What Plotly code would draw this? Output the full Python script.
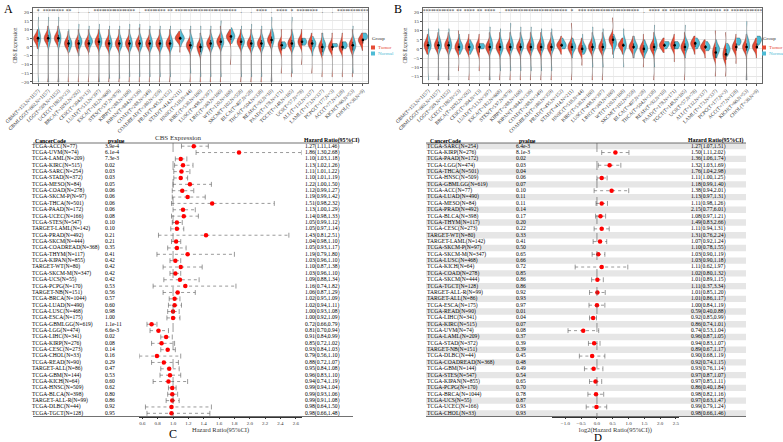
import math
import plotly.graph_objects as go

W, H = 783, 442
SERIF = "Liberation Serif"
RED = "#E64B35"
CYAN = "#4DBBD5"

cancer_labels = [
    "GBM(T=153,N=1157)", "GBMLGG(T=662,N=1157)", "LGG(T=509,N=1152)", "UCEC(T=180,N=23)",
    "BRCA(T=1092,N=292)", "CESC(T=304,N=13)", "LUAD(T=513,N=397)", "ESCA(T=182,N=668)",
    "STES(T=597,N=879)", "KIRP(T=288,N=168)", "KIPAN(T=884,N=336)", "COAD(T=288,N=349)",
    "COADREAD(T=380,N=359)", "PRAD(T=495,N=152)", "STAD(T=414,N=211)", "HNSC(T=518,N=44)",
    "KIRC(T=530,N=160)", "LUSC(T=498,N=397)", "LIHC(T=369,N=160)", "WT(T=120,N=168)",
    "SKCM(T=102,N=558)", "BLCA(T=407,N=28)", "THCA(T=504,N=338)", "READ(T=92,N=10)",
    "PAAD(T=178,N=171)", "TGCT(T=148,N=165)", "UCS(T=57,N=78)", "ALL(T=132,N=337)",
    "LAML(T=173,N=337)", "PCPG(T=177,N=3)", "ACC(T=77,N=128)", "KICH(T=66,N=53)",
    "CHOL(T=36,N=9)",
]

stars_a = ["*", "****", "****", "**", ".", ".", "****", "****", "****", "****", ".",
           "****", "****", "**", "****", "****", "****", "****", "****", "****", ".",
           ".", "****", ".", "****", "*", "****", "****", ".", ".", "****", "****", "****"]
stars_b = ["****", "****", "****", "**", "****", "**", "****", ".", "****", "****", "****",
           "****", "****", "****", "*", "***", "****", "****", "****", "****", "****",
           ".", "****", "**", "****", "****", "****", "****", "****", "**", "****",
           "****", "****"]

# (lo, q1, median, q3, hi)
a_tumor = [(-1, 3, 5, 6, 10), (-20, 3, 5, 7, 12), (-20, 3, 5, 7, 12), (-20, 0, 2, 4, 9),
           (-20, -1, 2, 4, 10), (-20, 0, 2, 4, 10), (-20, 1, 3, 5, 10), (-20, 0, 2, 4, 10),
           (-20, 0, 2, 4, 10), (-20, 0, 2, 4, 10), (-20, 0, 2, 4, 11), (-20, 0, 2, 4, 10),
           (-20, 0, 2, 4, 10), (-20, 0, 2, 4, 10), (-3, 4, 5, 6, 9), (-20, -1, 1, 3, 10),
           (-20, -3, 0, 2, 8), (-20, 0, 2, 4, 10), (-20, 1, 3, 5, 12), (-10, 4, 6, 7, 10),
           (-20, 1, 3, 5, 10), (-20, 0, 2, 4, 10), (-20, 0, 2, 4, 10), (-20, 2, 4, 6, 10),
           (-15, -2, 1, 3, 10), (-17, 0, 2, 4, 10), (-10, 1, 3, 5, 10), (-15, 0, 2, 4, 8),
           (-17, -3, 0, 2, 8), (-17, -2, 0, 2, 8), (-17, -2, 0, 3, 8), (-17, -2, 1, 3, 10),
           (-2, 2, 4, 5, 8)]
a_normal = [(-20, 2, 5, 8, 17), (-20, 2, 5, 8, 17), (-20, 2, 5, 8, 17), (-3, 0, 2, 4, 10),
            (-5, 1, 3, 5, 13), (-3, 2, 3, 5, 12), (-20, 1, 3, 6, 13), (-18, 0, 2, 5, 12),
            (-18, 0, 2, 5, 12), (-17, 0, 2, 5, 13), (-17, 0, 2, 5, 13), (-17, 0, 2, 5, 12),
            (-17, 0, 2, 5, 12), (-17, 0, 2, 5, 12), (0, 4, 5, 6, 10), (-15, 0, 2, 5, 12),
            (-17, -2, 1, 4, 12), (-17, 0, 2, 5, 12), (-17, 1, 3, 6, 15), (2, 5, 6, 8, 11),
            (-17, 1, 3, 5, 12), (-17, 0, 2, 5, 13), (-17, 0, 2, 5, 12), (-20, 2, 5, 8, 17),
            (-1, 0, 1, 2, 3), (-15, 0, 2, 6, 17), (1, 2, 3, 4, 5), (-5, 0, 2, 3, 6),
            (-5, -1, 1, 3, 8), (0, 0.5, 1, 1.5, 2), (-1, 0, 1, 2, 3), (-15, -1, 1, 4, 12),
            (4, 5, 6, 7, 8)]
b_tumor = [(-3, 0, 2, 4, 8), (-17, 0, 2, 4, 9), (-17, 0, 2, 4, 9), (-12, -1, 1, 3, 10),
           (-17, -1, 1, 3, 8), (-12, -2, 1, 3, 8), (-17, -1, 1, 3, 9), (-17, -1, 1, 3, 9),
           (-17, -1, 1, 3, 9), (-17, -1, 1, 3, 9), (-17, -1, 1, 3, 9), (-17, -1, 1, 3, 9),
           (-17, -1, 1, 3, 9), (-3, 1, 2, 3, 7), (-17, -1, 1, 3, 14), (-9, -2, 0, 2, 6),
           (-17, -1, 1, 3, 9), (-17, -1, 1, 3, 9), (-3, 3, 5, 7, 17), (-3, 1, 2, 3, 6),
           (-5, 0, 1, 3, 7), (-10, -2, 0, 2, 8), (-17, -1, 1, 3, 9), (-2, 1, 2, 3, 6),
           (-7, 0, 2, 4, 8), (-17, -1, 1, 3, 9), (-3, 1, 3, 4, 7), (-5, 0, 1, 2, 5),
           (-15, -5, -2, 1, 10), (-15, -6, -3, 0, 9), (-8, -1, 1, 3, 8), (-17, -1, 1, 3, 8),
           (-5, 0, 1, 3, 6)]
b_normal = [(-17, 0, 2, 5, 11), (-17, 0, 2, 5, 11), (-17, 0, 2, 5, 11), (-3, 0, 1, 3, 8),
            (-3, 0, 1, 2, 5), (0, 1, 1.5, 2, 3), (-17, 0, 2, 5, 12), (-12, -1, 1, 4, 11),
            (-12, 0, 2, 5, 14), (-12, 0, 2, 5, 12), (-12, 0, 2, 5, 12), (-12, 0, 2, 5, 11),
            (-12, 0, 2, 5, 11), (0, 1, 2, 3, 6), (-5, 0, 1, 3, 6), (-3, -1, 0, 2, 8),
            (-10, 0, 2, 5, 12), (-10, 0, 2, 5, 11), (-5, 1, 3, 5, 8), (-10, 0, 2, 5, 11),
            (-5, 0, 1, 3, 7), (-5, -1, 0, 2, 5), (-10, 0, 2, 5, 13), (0, 2, 3, 3.5, 4),
            (0, 1, 2, 3, 4), (-5, 0, 2, 4, 13), (0, 2, 3, 4, 6), (-1, 0, 1, 2, 4),
            (-5, -2, 0, 1, 5), (-4, -2, 0, 1, 3), (2, 3, 4, 5, 6), (-17, 0, 2, 5, 15),
            (2, 4, 5, 6, 7)]

c_codes = ["TCGA-ACC(N=77)", "TCGA-UVM(N=74)", "TCGA-LAML(N=209)", "TCGA-KIRC(N=515)",
           "TCGA-SARC(N=254)", "TCGA-STAD(N=372)", "TCGA-MESO(N=84)", "TCGA-COAD(N=278)",
           "TCGA-SKCM-P(N=97)", "TCGA-THCA(N=501)", "TCGA-PAAD(N=172)", "TCGA-UCEC(N=166)",
           "TCGA-STES(N=547)", "TARGET-LAML(N=142)", "TCGA-PRAD(N=492)", "TCGA-SKCM(N=444)",
           "TCGA-COADREAD(N=368)", "TCGA-THYM(N=117)", "TCGA-KIPAN(N=855)", "TARGET-WT(N=80)",
           "TCGA-SKCM-M(N=347)", "TCGA-UCS(N=55)", "TCGA-PCPG(N=170)", "TARGET-NB(N=151)",
           "TCGA-BRCA(N=1044)", "TCGA-LUAD(N=490)", "TCGA-LUSC(N=468)", "TCGA-ESCA(N=175)",
           "TCGA-GBMLGG(N=619)", "TCGA-LGG(N=474)", "TCGA-LIHC(N=341)", "TCGA-KIRP(N=276)",
           "TCGA-CESC(N=273)", "TCGA-CHOL(N=33)", "TCGA-READ(N=90)", "TARGET-ALL(N=86)",
           "TCGA-GBM(N=144)", "TCGA-KICH(N=64)", "TCGA-HNSC(N=509)", "TCGA-BLCA(N=398)",
           "TARGET-ALL-R(N=99)", "TCGA-DLBC(N=44)", "TCGA-TGCT(N=128)"]
c_pvalue = ["3.9e-4", "6.1e-4", "7.3e-3", "0.02", "0.03", "0.03", "0.05", "0.06", "0.06",
            "0.06", "0.06", "0.08", "0.10", "0.10", "0.21", "0.21", "0.35", "0.41", "0.42",
            "0.42", "0.42", "0.42", "0.53", "0.56", "0.57", "0.60", "0.98", "1.00",
            "1.1e-11", "6.6e-3", "0.02", "0.08", "0.14", "0.16", "0.29", "0.47", "0.53",
            "0.60", "0.62", "0.80", "0.86", "0.92", "0.95"]
c_hr = [1.27, 1.86, 1.10, 1.13, 1.11, 1.10, 1.22, 1.12, 1.19, 1.51, 1.13, 1.14, 1.05, 1.05,
        1.43, 1.04, 1.05, 1.19, 1.03, 1.10, 1.03, 1.09, 1.16, 1.06, 1.02, 1.02, 1.00, 1.00,
        0.72, 0.81, 0.91, 0.85, 0.93, 0.79, 0.88, 0.95, 0.96, 0.94, 0.99, 0.99, 0.99, 0.98,
        0.98]
c_lo = [1.11, 1.30, 1.03, 1.02, 1.01, 1.01, 1.00, 0.99, 0.99, 0.98, 1.00, 0.98, 0.99, 0.97,
        0.81, 0.98, 0.93, 0.79, 0.96, 0.87, 0.96, 0.88, 0.74, 0.87, 0.95, 0.94, 0.93, 0.92,
        0.66, 0.70, 0.84, 0.72, 0.84, 0.56, 0.72, 0.84, 0.83, 0.74, 0.94, 0.93, 0.91, 0.64,
        0.66]
c_hi = [1.46, 2.68, 1.18, 1.26, 1.22, 1.19, 1.50, 1.27, 1.42, 2.32, 1.29, 1.33, 1.12, 1.14,
        2.51, 1.10, 1.17, 1.80, 1.10, 1.38, 1.10, 1.34, 1.82, 1.29, 1.09, 1.11, 1.08, 1.09,
        0.79, 0.94, 0.99, 1.02, 1.03, 1.10, 1.07, 1.08, 1.10, 1.19, 1.04, 1.06, 1.08, 1.50,
        1.48]

d_codes = ["TCGA-SARC(N=254)", "TCGA-KIRP(N=276)", "TCGA-PAAD(N=172)", "TCGA-LGG(N=474)",
           "TCGA-THCA(N=501)", "TCGA-HNSC(N=509)", "TCGA-GBMLGG(N=619)", "TCGA-ACC(N=77)",
           "TCGA-LUAD(N=490)", "TCGA-MESO(N=84)", "TCGA-PRAD(N=492)", "TCGA-BLCA(N=398)",
           "TCGA-THYM(N=117)", "TCGA-CESC(N=273)", "TARGET-WT(N=80)", "TARGET-LAML(N=142)",
           "TCGA-SKCM-P(N=97)", "TCGA-SKCM-M(N=347)", "TCGA-LUSC(N=468)", "TCGA-KICH(N=64)",
           "TCGA-COAD(N=278)", "TCGA-SKCM(N=444)", "TCGA-TGCT(N=128)", "TARGET-ALL-R(N=99)",
           "TARGET-ALL(N=86)", "TCGA-ESCA(N=175)", "TCGA-READ(N=90)", "TCGA-LIHC(N=341)",
           "TCGA-KIRC(N=515)", "TCGA-UVM(N=74)", "TCGA-LAML(N=209)", "TCGA-STAD(N=372)",
           "TARGET-NB(N=151)", "TCGA-DLBC(N=44)", "TCGA-COADREAD(N=368)", "TCGA-GBM(N=144)",
           "TCGA-STES(N=547)", "TCGA-KIPAN(N=855)", "TCGA-PCPG(N=170)", "TCGA-BRCA(N=1044)",
           "TCGA-UCS(N=55)", "TCGA-UCEC(N=166)", "TCGA-CHOL(N=33)"]
d_pvalue = ["6.4e-3", "8.1e-3", "0.02", "0.03", "0.04", "0.06", "0.07", "0.10", "0.11",
            "0.11", "0.14", "0.17", "0.20", "0.22", "0.33", "0.41", "0.50", "0.65", "0.66",
            "0.72", "0.85", "0.86", "0.86", "0.92", "0.93", "0.97", "0.01", "0.04", "0.07",
            "0.08", "0.37", "0.39", "0.39", "0.45", "0.48", "0.49", "0.54", "0.65", "0.70",
            "0.78", "0.87", "0.93", "0.93"]
d_hr = [1.27, 1.50, 1.36, 1.32, 1.76, 1.11, 1.18, 1.38, 1.13, 1.11, 2.15, 1.08, 1.49, 1.11,
        1.31, 1.07, 1.10, 1.03, 1.03, 1.11, 1.02, 1.01, 1.11, 1.01, 1.01, 1.00, 0.59, 0.92,
        0.86, 0.74, 0.96, 0.94, 0.89, 0.90, 0.92, 0.93, 0.97, 0.97, 0.86, 0.98, 0.97, 0.99,
        0.98]
d_lo = [1.07, 1.11, 1.06, 1.03, 1.04, 1.00, 0.99, 0.94, 0.97, 0.98, 0.77, 0.97, 0.83, 0.94,
        0.76, 0.92, 0.78, 0.90, 0.90, 0.62, 0.80, 0.89, 0.37, 0.85, 0.86, 0.84, 0.40, 0.85,
        0.74, 0.53, 0.87, 0.83, 0.67, 0.68, 0.74, 0.76, 0.87, 0.85, 0.40, 0.82, 0.63, 0.79,
        0.66]
d_hi = [1.51, 2.02, 1.74, 1.69, 2.98, 1.25, 1.40, 2.01, 1.31, 1.26, 6.01, 1.21, 2.66, 1.31,
        2.24, 1.24, 1.55, 1.19, 1.18, 1.97, 1.32, 1.15, 3.34, 1.20, 1.17, 1.19, 0.88, 0.99,
        1.01, 1.04, 1.05, 1.07, 1.17, 1.19, 1.15, 1.14, 1.07, 1.11, 1.84, 1.16, 1.47, 1.24,
        1.46]


def px(x):
    return x / W


def py(y):
    return 1 - y / H


def samples(s):
    lo, q1, med, q3, hi = s
    return [lo] + [q1] * 3 + [med] * 4 + [q3] * 3 + [hi]


fig = go.Figure()

# violin panels A and B
for xa, ya, tum, nor, stars in [("x", "y", a_tumor, a_normal, stars_a),
                                ("x2", "y2", b_tumor, b_normal, stars_b)]:
    for stats, side, col in [(tum, "negative", RED), (nor, "positive", CYAN)]:
        xs, ys = [], []
        for lab, s in zip(cancer_labels, stats):
            v = samples(s)
            xs += [lab] * len(v)
            ys += v
        fig.add_trace(go.Violin(
            x=xs, y=ys, xaxis=xa, yaxis=ya, side=side, fillcolor=col,
            line=dict(color="#3a3a3a", width=0.35), opacity=1, points=False,
            spanmode="hard", bandwidth=2.0, width=1.0, scalemode="width",
            showlegend=False, hoverinfo="skip"))
    fig.add_trace(go.Scatter(
        x=cancer_labels, y=[s[2] for s in tum], xaxis=xa, yaxis=ya, mode="markers",
        marker=dict(color="black", size=2.6),
        error_y=dict(type="data", symmetric=False,
                     array=[s[3] - s[2] for s in tum],
                     arrayminus=[s[2] - s[1] for s in tum],
                     color="black", thickness=0.7, width=0),
        showlegend=False, hoverinfo="skip"))
    fig.add_trace(go.Scatter(
        x=cancer_labels, y=[20.3] * len(stars), xaxis=xa, yaxis=ya, mode="text",
        text=stars, textfont=dict(size=5.5, family=SERIF, color="#333"),
        showlegend=False, hoverinfo="skip"))

# forest panels C and D
rows_d = list(range(len(d_codes)))

for xa, ya, xt, yt, codes, pv, hr, lo, hi, xs_txt in [
        ("x3", "y3", "x5", "y5", c_codes, c_pvalue, c_hr, c_lo, c_hi, (32, 105, 305)),
        ("x4", "y4", "x6", "y6", d_codes, d_pvalue, d_hr, d_lo, d_hi, (427, 516, 691))]:
    rows = list(range(len(codes)))
    lx, ly = [], []
    for r, a, b in zip(rows, lo, hi):
        lx += [a, b, None]
        ly += [r, r, None]
    fig.add_trace(go.Scatter(x=lx, y=ly, xaxis=xa, yaxis=ya, mode="lines",
                             line=dict(color="#555", width=0.6, dash="dot"),
                             showlegend=False, hoverinfo="skip"))
    fig.add_trace(go.Scatter(x=lo + hi, y=rows + rows, xaxis=xa, yaxis=ya, mode="markers",
                             marker=dict(symbol="line-ns", size=3.5,
                                         line=dict(color="#555", width=0.6)),
                             showlegend=False, hoverinfo="skip"))
    fig.add_trace(go.Scatter(x=hr, y=rows, xaxis=xa, yaxis=ya, mode="markers",
                             marker=dict(color="#FF0000", size=4.5),
                             showlegend=False, hoverinfo="skip"))
    hr_txt = [f"{h:.2f}({a:.2f},{b:.2f})" for h, a, b in zip(hr, lo, hi)]
    for xpos, txt in zip(xs_txt, [codes, pv, hr_txt]):
        fig.add_trace(go.Scatter(x=[xpos] * len(txt), y=rows, xaxis=xt, yaxis=yt,
                                 mode="text", text=txt, textposition="middle right",
                                 textfont=dict(size=5.6, family=SERIF, color="black"),
                                 showlegend=False, hoverinfo="skip"))

shapes = []
for r in rows_d:
    if r % 2 == 0:
        shapes.append(dict(type="rect", xref="x6", yref="y6", x0=426, x1=746,
                           y0=r - 0.5, y1=r + 0.5, fillcolor="#e6e6e6",
                           line=dict(width=0), layer="below"))
for x0, x1 in [(33, 353), (426, 746)]:
    for yy in [143, 416.5]:
        shapes.append(dict(type="line", xref="paper", yref="paper", x0=px(x0), x1=px(x1),
                           y0=py(yy), y1=py(yy), line=dict(color="#333", width=0.7)))
shapes.append(dict(type="line", xref="x3", yref="y3", x0=1, x1=1, y0=-0.5, y1=42.5,
                   line=dict(color="#555", width=0.6, dash="dash")))
shapes.append(dict(type="line", xref="x4", yref="y4", x0=1, x1=1, y0=-0.5, y1=42.5,
                   line=dict(color="#555", width=0.6, dash="dash")))

annotations = []
# manual legends
for lx0 in [370, 761]:
    annotations.append(dict(x=px(lx0), y=py(38), xref="paper", yref="paper", text="Group",
                            showarrow=False, xanchor="left", yanchor="middle",
                            font=dict(size=5, family=SERIF, color="#333")))
    for yy, name, col in [(47.5, "Tumor", RED), (53.5, "Normal", CYAN)]:
        shapes.append(dict(type="rect", xref="paper", yref="paper", x0=px(lx0 + 1),
                           x1=px(lx0 + 5), y0=py(yy + 2), y1=py(yy - 2), fillcolor=col,
                           line=dict(width=0)))
        annotations.append(dict(x=px(lx0 + 5.5), y=py(yy), xref="paper", yref="paper",
                                text=name, showarrow=False, xanchor="left", yanchor="middle",
                                font=dict(size=5, family=SERIF, color=col)))

for xx, yy, t, fs in [(8, 9, "A", 12), (398, 9, "B", 12), (173, 434, "C", 12),
                      (598, 436.5, "D", 11)]:
    annotations.append(dict(x=px(xx), y=py(yy), xref="paper", yref="paper", text=t,
                            showarrow=False, xanchor="center", yanchor="middle",
                            font=dict(size=fs, family=SERIF, color="black")))

for xx, t in [(33, "CancerCode"), (106, "pvalue"), (302, "Hazard Ratio(95%CI)"),
              (428, "CancerCode"), (517, "pvalue"), (686, "Hazard Ratio(95%CI)")]:
    annotations.append(dict(x=px(xx), y=py(140.5), xref="paper", yref="paper",
                            text=f"<b>{t}</b>", showarrow=False, xanchor="left",
                            yanchor="middle", font=dict(size=5.8, family=SERIF, color="black")))
annotations.append(dict(x=px(178), y=py(137.5), xref="paper", yref="paper",
                        text="CBS Expression", showarrow=False, xanchor="center",
                        yanchor="middle", font=dict(size=7, family=SERIF, color="#333")))

violin_x = dict(type="category", tickangle=-45, range=[-0.5, 32.5],
                tickfont=dict(size=5, family=SERIF, color="#333"), ticks="outside",
                ticklen=2, tickcolor="#555", showline=True, mirror=True, linecolor="#666",
                linewidth=0.8, showgrid=True, gridcolor="#eeeeee", gridwidth=0.5)
violin_y = dict(tickfont=dict(size=5, family=SERIF, color="#333"), ticks="outside",
                ticklen=2, tickcolor="#555", showline=True, mirror=True, linecolor="#666",
                linewidth=0.8, showgrid=True, gridcolor="#e6e6e6", gridwidth=0.5,
                zeroline=False,
                title=dict(text="CBS Expression", font=dict(size=5.5, family=SERIF,
                                                            color="#333"), standoff=3))
row_axis = dict(domain=[py(416.5), py(143)], range=[42.5, -0.5], visible=False)
forest_x = dict(showline=True, linecolor="#333", linewidth=0.7, ticks="outside",
                ticklen=1.5, tickcolor="#333", showgrid=False, zeroline=False,
                tickfont=dict(size=5, family=SERIF, color="#333"))

d_ticks = [-1.0, -0.5, 0.0, 0.5, 1.0, 1.5, 2.0, 2.5]

fig.update_layout(
    width=W, height=H, autosize=False,
    margin=dict(l=0, r=0, t=0, b=0, autoexpand=False),
    paper_bgcolor="white", plot_bgcolor="rgba(0,0,0,0)", violinmode="overlay",
    violingap=0, showlegend=False, shapes=shapes, annotations=annotations,
    xaxis=dict(violin_x, domain=[px(33), px(368)], anchor="y"),
    yaxis=dict(violin_y, domain=[py(83), py(8)], anchor="x", range=[-20.6, 22.3],
               tickvals=list(range(-20, 21, 5))),
    xaxis2=dict(violin_x, domain=[px(423), px(762)], anchor="y2"),
    yaxis2=dict(violin_y, domain=[py(83), py(8)], anchor="x2", range=[-18.7, 22.4],
                tickvals=list(range(-15, 21, 5))),
    xaxis3=dict(forest_x, domain=[px(139.3), px(301.9)], anchor="y3", range=[0.56, 2.68],
                tick0=0.6, dtick=0.2, tickformat=".1f",
                title=dict(text="Hazard Ratio(95%CI)", standoff=0,
                           font=dict(size=6.5, family=SERIF, color="#333"))),
    yaxis3=dict(row_axis, anchor="x3"),
    xaxis4=dict(forest_x, domain=[px(551.8), px(679)], anchor="y4", type="log",
                range=[-1.43 * math.log10(2), 2.6 * math.log10(2)],
                tickvals=[2 ** t for t in d_ticks],
                ticktext=[f"{t:.1f}".replace("-", "\u2212") for t in d_ticks],
                title=dict(text="log2(Hazard Ratio(95%CI))", standoff=0,
                           font=dict(size=6.5, family=SERIF, color="#333"))),
    yaxis4=dict(row_axis, anchor="x4"),
    xaxis5=dict(domain=[0, 0.5], range=[0, W / 2], visible=False, anchor="y5"),
    yaxis5=dict(row_axis, anchor="x5"),
    xaxis6=dict(domain=[0.5, 1], range=[W / 2, W], visible=False, anchor="y6"),
    yaxis6=dict(row_axis, anchor="x6"),
)

# the page body has a default 8px margin; drop it so the figure sits at 0,0
fig.write_html("out.html", config={"displayModeBar": False},
               post_script="document.body.style.margin='0px';")
